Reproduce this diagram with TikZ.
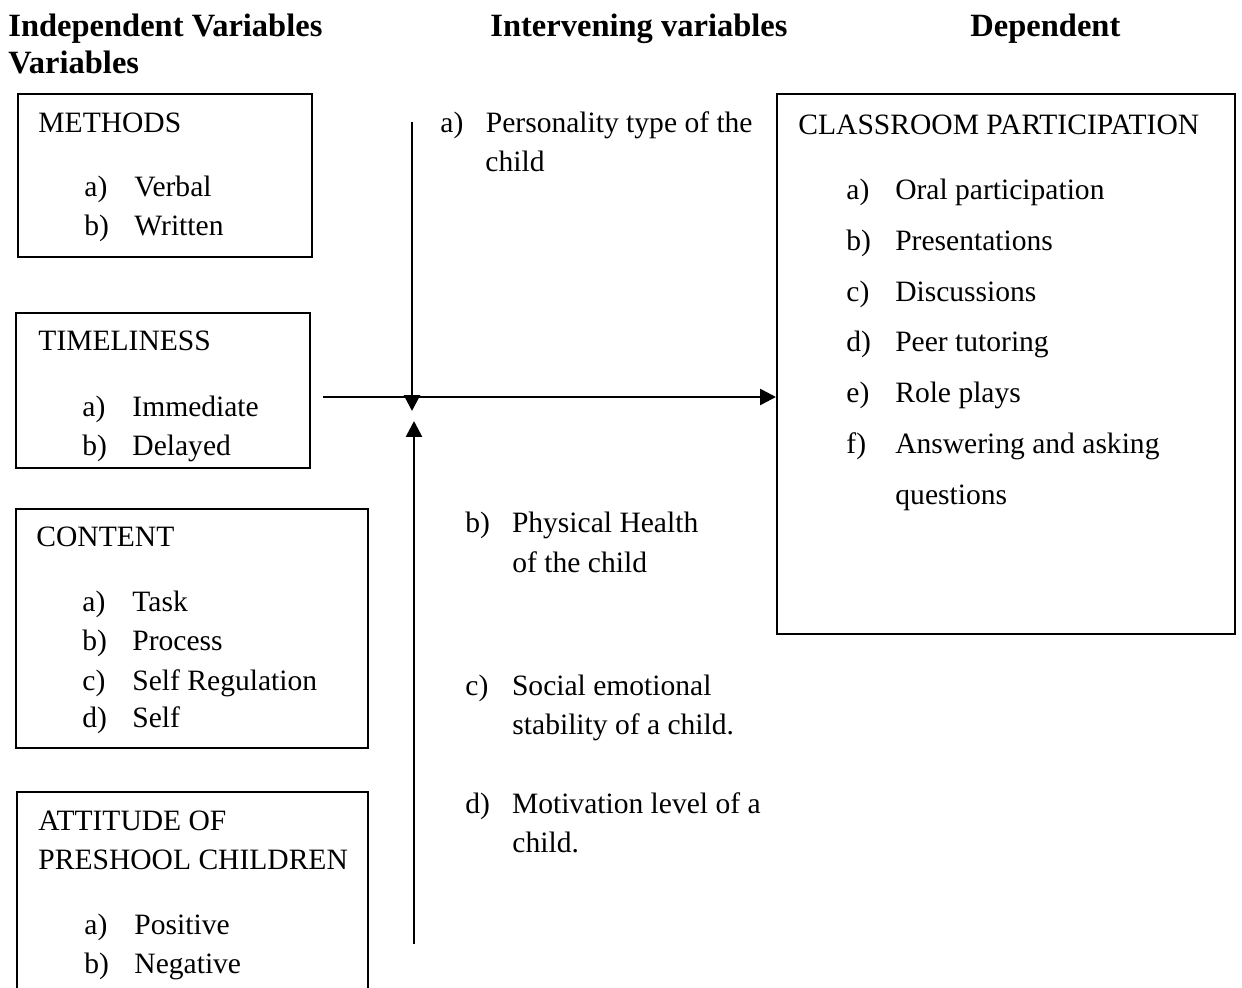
\documentclass[tikz,border=0pt]{standalone}
\usepackage{fontspec}
\setmainfont{Liberation Serif}
\usepackage{tikz}
\usetikzlibrary{arrows.meta, positioning, fit}

\begin{document}
\begin{tikzpicture}[x=0.44pt, y=-0.44pt,
    box/.style={draw, line width=0.9pt, inner sep=0pt},
    txt/.style={anchor=base west, inner sep=0pt, font=\fontsize{13}{15}\selectfont},
    head/.style={anchor=base west, inner sep=0pt, font=\fontsize{14.3}{16}\selectfont\bfseries},
    flow/.style={line width=1.2pt, -{Triangle[length=7pt, width=7pt]}}]
    \useasboundingbox (0,0) rectangle (1242,987);

    % Headings
    \node[head] (hind) at (8,36) {Independent Variables};
    \node[head] (hvar) at (8,73) {Variables};
    \node[head] (hint) at (490,36) {Intervening variables};
    \node[head] (hdep) at (970,36) {Dependent};

    % Independent variable boxes
    \node[box, fit={(18,94) (312,257)}] (methods) {};
    \node[txt] (methodsT) at (38,132) {METHODS};
    \node[txt] (methodsA) at (84,196) {\makebox[22pt][l]{a)}Verbal};
    \node[txt] (methodsB) at (84,235) {\makebox[22pt][l]{b)}Written};

    \node[box, fit={(16,313) (310,468)}] (timely) {};
    \node[txt] (timelyT) at (38,350) {TIMELINESS};
    \node[txt] (timelyA) at (82,416) {\makebox[22pt][l]{a)}Immediate};
    \node[txt] (timelyB) at (82,455) {\makebox[22pt][l]{b)}Delayed};

    \node[box, fit={(16,509) (368,748)}] (content) {};
    \node[txt] (contentT) at (36,546) {CONTENT};
    \node[txt] (contentA) at (82,611) {\makebox[22pt][l]{a)}Task};
    \node[txt] (contentB) at (82,650) {\makebox[22pt][l]{b)}Process};
    \node[txt] (contentC) at (82,690) {\makebox[22pt][l]{c)}Self Regulation};
    \node[txt] (contentD) at (82,727) {\makebox[22pt][l]{d)}Self};

    \draw[line width=0.9pt] (17,995) -- (17,792) -- (368,792) -- (368,995);
    \node[txt] (attT) at (38,830) {ATTITUDE OF};
    \node[txt] (attU) at (38,869) {PRESHOOL CHILDREN};
    \node[txt] (attA) at (84,934) {\makebox[22pt][l]{a)}Positive};
    \node[txt] (attB) at (84,973) {\makebox[22pt][l]{b)}Negative};

    % Intervening variables
    \node[txt] (intA) at (440,132) {\makebox[20pt][l]{a)}Personality type of the};
    \node[txt] (intA2) at (485,171) {child};
    \node[txt] (intB) at (465,532) {\makebox[20.5pt][l]{b)}Physical Health};
    \node[txt] (intB2) at (512,572) {of the child};
    \node[txt] (intC) at (465,695) {\makebox[20.5pt][l]{c)}Social emotional};
    \node[txt] (intC2) at (512,734) {stability of a child.};
    \node[txt] (intD) at (465,813) {\makebox[20.5pt][l]{d)}Motivation level of a};
    \node[txt] (intD2) at (512,852) {child.};

    % Dependent variable box
    \node[box, fit={(777,94) (1235,634)}] (part) {};
    \node[txt] (partT) at (798,134) {CLASSROOM PARTICIPATION};
    \node[txt] (partA) at (846,199) {\makebox[21.5pt][l]{a)}Oral participation};
    \node[txt] (partB) at (846,250) {\makebox[21.5pt][l]{b)}Presentations};
    \node[txt] (partC) at (846,301) {\makebox[21.5pt][l]{c)}Discussions};
    \node[txt] (partD) at (846,351) {\makebox[21.5pt][l]{d)}Peer tutoring};
    \node[txt] (partE) at (846,402) {\makebox[21.5pt][l]{e)}Role plays};
    \node[txt] (partF) at (846,453) {\makebox[21.5pt][l]{f)}Answering and asking};
    \node[txt] (partF2) at (895,504) {questions};

    % Arrows
    \coordinate (src) at (323,397);
    \coordinate (topS) at (412,122);
    \coordinate (topE) at (412,411);
    \coordinate (botS) at (414,944);
    \coordinate (botE) at (414,421);
    \draw[flow] (src) -- (src -| part.west);
    \draw[flow] (topS) -- (topE);
    \draw[flow] (botS) -- (botE);
\end{tikzpicture}
\end{document}
